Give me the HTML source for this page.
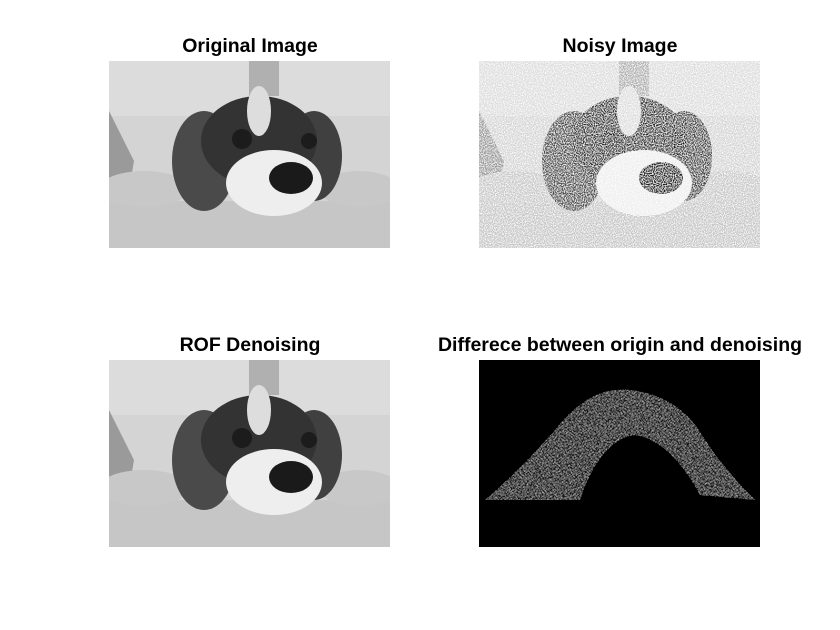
<!DOCTYPE html>
<html><head><meta charset="utf-8"><style>
body{margin:0;background:#fff;width:840px;height:630px;overflow:hidden}
svg{display:block}
text{font-family:"Liberation Sans",sans-serif;font-weight:bold;font-size:19.5px;fill:#000}
</style></head><body>
<svg width="840" height="630">
<defs>
<clipPath id="c"><rect width="281" height="187"/></clipPath>
<filter id="noise" x="0" y="0" width="100%" height="100%">
<feTurbulence type="fractalNoise" baseFrequency="0.9" numOctaves="1" seed="3" result="t"/>
<feColorMatrix in="t" type="matrix" values="0 0 0 0 1  0 0 0 0 1  0 0 0 0 1  0 0 0 3 -1.2" result="w"/>
<feComposite in="w" in2="SourceGraphic" operator="over"/>
</filter>
<filter id="speck" x="0" y="0" width="100%" height="100%">
<feTurbulence type="fractalNoise" baseFrequency="1.0" numOctaves="1" seed="7" result="t"/>
<feColorMatrix in="t" type="matrix" values="0 0 0 0 1  0 0 0 0 1  0 0 0 0 1  0 0 0 5 -2.3" result="w"/>
<feComposite in="w" in2="SourceAlpha" operator="in"/>
</filter>
<g id="dog" clip-path="url(#c)">
<rect width="281" height="187" fill="#d4d4d4"/>
<rect x="0" y="0" width="281" height="55" fill="#dcdcdc"/>
<rect x="140" y="0" width="30" height="35" fill="#b0b0b0"/>
<rect x="0" y="140" width="281" height="47" fill="#c6c6c6"/>
<path d="M0 50 L25 100 L20 130 L0 130Z" fill="#9a9a9a"/>
<ellipse cx="35" cy="128" rx="45" ry="18" fill="#c8c8c8"/>
<ellipse cx="250" cy="128" rx="40" ry="18" fill="#c8c8c8"/>
<ellipse cx="95" cy="100" rx="32" ry="50" fill="#4a4a4a"/>
<ellipse cx="205" cy="95" rx="28" ry="45" fill="#404040"/>
<ellipse cx="150" cy="80" rx="58" ry="45" fill="#333"/>
<ellipse cx="150" cy="50" rx="12" ry="25" fill="#ddd"/>
<ellipse cx="165" cy="122" rx="48" ry="33" fill="#eee"/>
<ellipse cx="182" cy="117" rx="22" ry="16" fill="#1a1a1a"/>
<circle cx="133" cy="78" r="10" fill="#1c1c1c"/>
<circle cx="200" cy="80" r="8" fill="#1c1c1c"/>
</g>
</defs>
<text x="250" y="52" text-anchor="middle">Original Image</text>
<use href="#dog" x="109" y="61"/>
<text x="620" y="52" text-anchor="middle">Noisy Image</text>
<g filter="url(#noise)"><use href="#dog" x="479" y="61"/></g>
<text x="250" y="351" text-anchor="middle">ROF Denoising</text>
<use href="#dog" x="109" y="360"/>
<text x="620" y="351" text-anchor="middle">Differece between origin and denoising</text>
<g>
<rect x="479" y="360" width="281" height="187" fill="#000"/>
<g filter="url(#speck)"><path d="M485 500 Q520 470 555 430 Q590 385 630 390 Q680 395 705 440 Q725 470 755 500 L700 495 Q670 440 635 435 Q600 440 580 500Z" fill="#fff"/></g>
</g>
</svg>
</body></html>
